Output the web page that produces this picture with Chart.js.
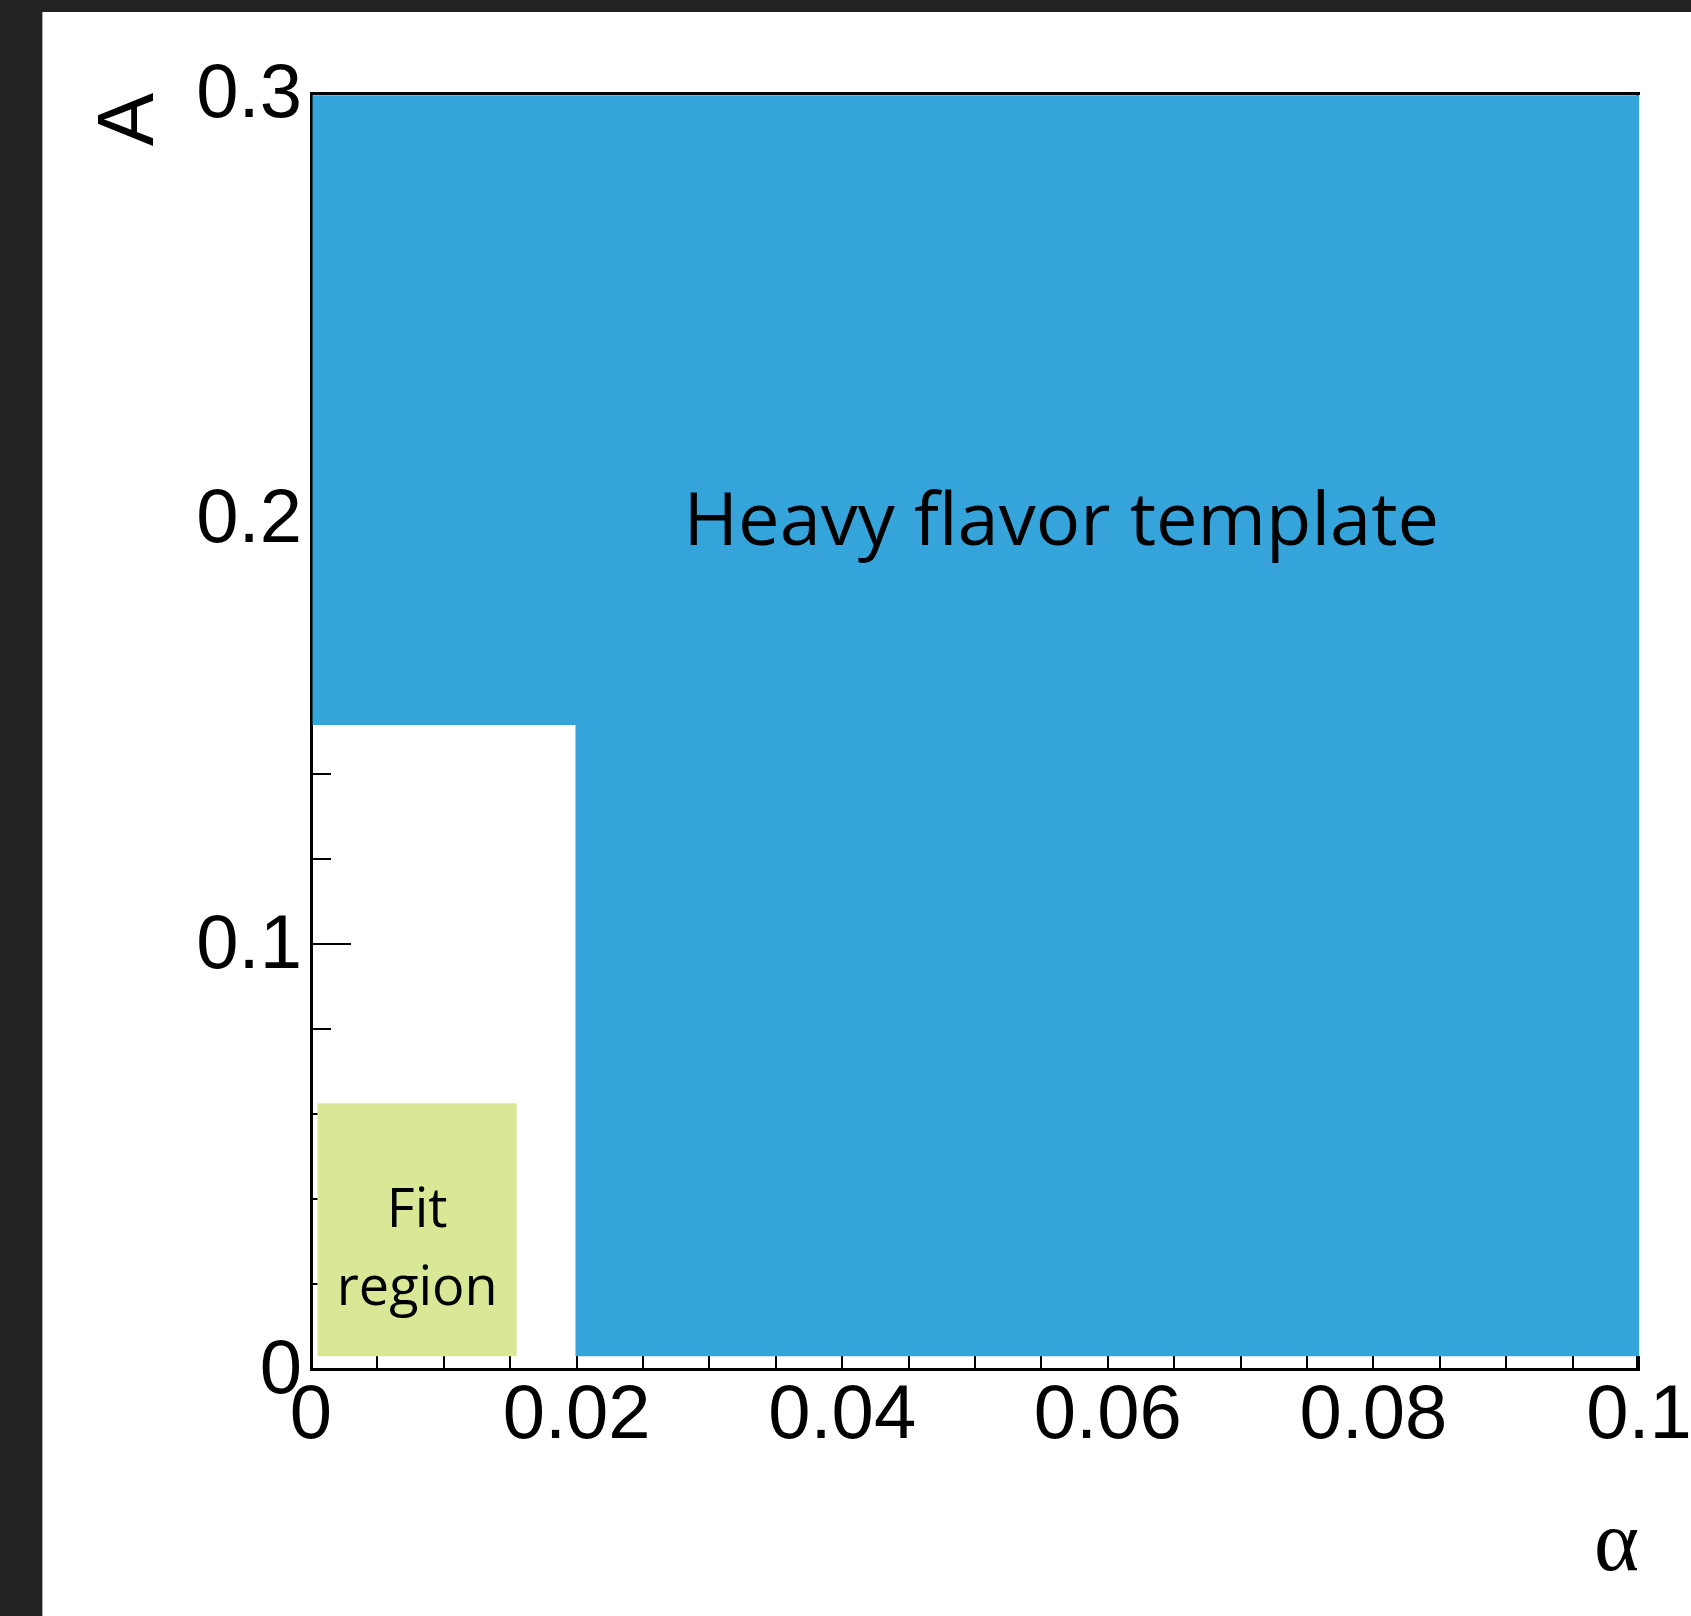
<!DOCTYPE html>
<html>
<head>
<meta charset="utf-8">
<title>Heavy flavor template</title>
<script src="https://cdn.jsdelivr.net/npm/chart.js@4.4.1/dist/chart.umd.min.js"></script>
<style>
  html, body { margin: 0; padding: 0; background: #222222; overflow: hidden; }
  #folha { position: absolute; left: 42px; top: 12px; width: 1648px; height: 1604px; background: #fff; border-left: 1px solid #a8a8a8; overflow: hidden; }
  #grafico { display: block; }
</style>
</head>
<body>
<div id="folha"><canvas id="grafico" width="1690" height="1604"></canvas></div>
<script>
// Eixos
const alphaRange = [0, 0.1];
const aRange = [0, 0.3];
const alphaTickLabels = ['0', '0.02', '0.04', '0.06', '0.08', '0.1'];
const aTickLabels = ['0', '0.1', '0.2', '0.3'];

// Regiões: [min, max] em alpha e em A
const templateSupAlpha = [0.0001, 0.1];
const templateSupA = [0.1514, 0.2995];
const templateInfAlpha = [0.0199, 0.1];
const templateInfA = [0.003, 0.1514];
const fitAlpha = [0.00047, 0.0155];
const fitA = [0.003, 0.0625];

// Textos
const templateTexto = 'Heavy flavor template';
const fitTexto = ['Fit', 'region'];

const azul = '#34a4da';
const verde = '#d8e896';

Chart.defaults.font.family = '"Liberation Sans", Arial, sans-serif';
Chart.defaults.color = '#000';

// Retângulo como linha no topo preenchida até o valor de baixo
function regiao(alphas, as, cor) {
  return {
    data: [{ x: alphas[0], y: as[1] }, { x: alphas[1], y: as[1] }],
    fill: { value: as[0] },
    backgroundColor: cor,
    borderColor: 'rgba(0,0,0,0)',
    borderWidth: 0,
    pointRadius: 0,
    pointHoverRadius: 0
  };
}

// Só mostra rótulo nos múltiplos do passo
function rotuloTick(valor, passo, rotulos) {
  const k = valor / passo;
  const i = Math.round(k);
  return Math.abs(k - i) < 1e-6 && rotulos[i] !== undefined ? rotulos[i] : '';
}

// Textos dentro das regiões
const textosPlugin = {
  id: 'textos',
  afterDatasetsDraw(chart) {
    const { ctx, scales: { x, y } } = chart;
    ctx.save();
    ctx.fillStyle = '#000';
    ctx.textAlign = 'center';
    ctx.textBaseline = 'alphabetic';
    ctx.font = '400 74px "Open Sans"';
    const capH = ctx.measureText('H').actualBoundingBoxAscent;
    ctx.fillText(templateTexto, x.getPixelForValue(0.0565), y.getPixelForValue(0.2) + capH / 2);
    ctx.font = '400 54px "Open Sans"';
    ctx.fillText(fitTexto[0], x.getPixelForValue(0.008), y.getPixelForValue(0.0334));
    ctx.fillText(fitTexto[1], x.getPixelForValue(0.008), y.getPixelForValue(0.015));
    ctx.restore();
  }
};

const tickFont = { family: '"Liberation Sans", Arial, sans-serif', size: 76 };

// canvas um pouco mais largo que a folha: o rótulo 0.1 encosta na borda
new Chart(document.getElementById('grafico'), {
  type: 'line',
  data: {
    datasets: [
      regiao(fitAlpha, fitA, verde),
      regiao(templateSupAlpha, templateSupA, azul),
      regiao(templateInfAlpha, templateInfA, azul)
    ]
  },
  options: {
    responsive: false,
    animation: false,
    devicePixelRatio: 1,
    events: [],
    layout: { padding: { left: 0, top: 81, right: 94, bottom: 0 } },
    plugins: {
      legend: { display: false },
      tooltip: { enabled: false }
    },
    scales: {
      x: {
        type: 'linear',
        min: alphaRange[0],
        max: alphaRange[1],
        afterFit: s => { s.height = 247; },
        border: { color: '#000', width: 3 },
        grid: { drawOnChartArea: false, tickLength: -13, color: '#000', lineWidth: 2 },
        ticks: {
          stepSize: 0.005,
          autoSkip: false,
          maxRotation: 0,
          padding: 15,
          font: tickFont,
          callback: v => rotuloTick(v, 0.02, alphaTickLabels)
        },
        title: {
          display: true,
          text: 'α',
          align: 'end',
          font: { family: '"Liberation Serif", "Times New Roman", serif', size: 86 },
          padding: { top: 0, bottom: 17 }
        }
      },
      y: {
        type: 'linear',
        min: aRange[0],
        max: aRange[1],
        afterFit: s => { s.width = 268; },
        border: { color: '#000', width: 3 },
        grid: { drawOnChartArea: false, tickLength: -20, color: '#000', lineWidth: 2 },
        ticks: {
          stepSize: 0.02,
          autoSkip: false,
          padding: 29,
          labelOffset: 3,
          font: tickFont,
          callback: v => rotuloTick(v, 0.1, aTickLabels)
        },
        title: {
          display: true,
          text: 'A',
          align: 'end',
          font: { family: '"Liberation Sans", Arial, sans-serif', size: 80 },
          padding: { top: 40, bottom: 0 }
        }
      },
      // ticks maiores do eixo A
      yMaior: {
        axis: 'y',
        type: 'linear',
        min: aRange[0],
        max: aRange[1],
        position: { x: 0 },
        border: { display: false },
        grid: { drawOnChartArea: false, tickLength: -40, color: '#000', lineWidth: 2 },
        ticks: { display: false, stepSize: 0.1 }
      },
      // moldura de cima e da direita (a da direita fica sob o azul)
      xTopo: {
        axis: 'x',
        type: 'linear',
        min: alphaRange[0],
        max: alphaRange[1],
        position: { y: aRange[1] },
        border: { color: '#000', width: 3 },
        grid: { drawOnChartArea: false, drawTicks: false, color: 'rgba(0,0,0,0)' },
        ticks: { display: false }
      },
      yDireita: {
        axis: 'y',
        type: 'linear',
        min: aRange[0],
        max: aRange[1],
        position: { x: 0.0999 },
        border: { color: '#000', width: 3 },
        grid: { drawOnChartArea: false, drawTicks: false, color: 'rgba(0,0,0,0)' },
        ticks: { display: false }
      }
    }
  },
  plugins: [textosPlugin]
});
</script>
</body>
</html>
